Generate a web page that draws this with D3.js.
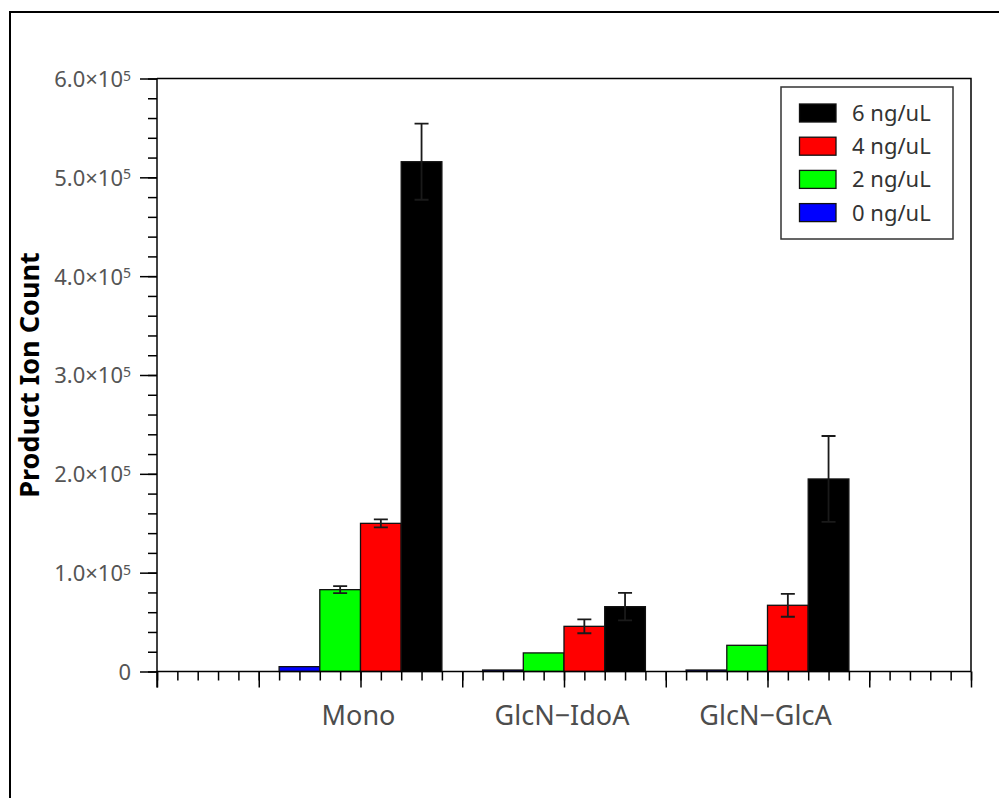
<!DOCTYPE html>
<html>
<head>
<meta charset="utf-8">
<script src="https://cdn.jsdelivr.net/npm/d3@7/dist/d3.min.js"></script>
<style>
  html, body { margin: 0; padding: 0; background: #fff; }
  svg { display: block; font-family: "Noto Sans", "Open Sans", sans-serif; }
</style>
</head>
<body>
<svg id="chart" width="999" height="798"></svg>
<script>
// Categories and their positions on the linear x axis
const categories = ["Mono", "GlcN\u2212IdoA", "GlcN\u2212GlcA"];
const categoryX = [2, 4, 6];

// Concentration series (drawn left to right inside each group)
const series = ["0 ng/uL", "2 ng/uL", "4 ng/uL", "6 ng/uL"];
const seriesColors = ["#0000ff", "#00ff00", "#ff0000", "#000000"];

// Product ion counts per series, one value per category
const vals0 = [4900, 1500, 1500];
const vals2 = [82800, 18800, 26500];
const vals4 = [149900, 45700, 67000];
const vals6 = [515800, 65600, 194800];

// Error (± one SD) per series, one value per category
const err0 = [0, 0, 0];
const err2 = [3500, 0, 0];
const err4 = [4000, 7000, 11600];
const err6 = [38500, 13900, 43500];

// Y tick labels
const yMajorTicks = [0, 100000, 200000, 300000, 400000, 500000, 600000];
const yTickMantissa = ["0", "1.0", "2.0", "3.0", "4.0", "5.0", "6.0"];

const values = [vals0, vals2, vals4, vals6];
const errors = [err0, err2, err4, err6];
const barWidth = 0.4;

const svg = d3.select("#chart");

const plot = { left: 157, right: 971, top: 78.5, bottom: 671.5 };

const x = d3.scaleLinear().domain([0, 8]).range([plot.left, plot.right]);
const y = d3.scaleLinear().domain([0, 600000]).range([plot.bottom, plot.top]);

// Outer frame
svg.append("rect")
  .attr("x", 10).attr("y", 12)
  .attr("width", 1000).attr("height", 800)
  .attr("fill", "none").attr("stroke", "#000").attr("stroke-width", 2);

// Top and right borders of the plotting box
svg.append("path")
  .attr("d", `M${plot.left},${plot.top}H${plot.right}V${plot.bottom}`)
  .attr("fill", "none").attr("stroke", "#000").attr("stroke-width", 1.5);

// Bars
const barData = [];
series.forEach((s, i) => {
  categories.forEach((c, j) => {
    barData.push({
      series: i, cat: j, value: values[i][j], err: errors[i][j],
      x0: categoryX[j] - 0.8 + barWidth * i
    });
  });
});

svg.append("g").selectAll("rect")
  .data(barData)
  .join("rect")
  .attr("x", d => x(d.x0))
  .attr("width", d => x(d.x0 + barWidth) - x(d.x0))
  .attr("y", d => y(d.value))
  .attr("height", d => y(0) - y(d.value))
  .attr("fill", d => seriesColors[d.series])
  .attr("stroke", "#111")
  .attr("stroke-width", 1.3);

// Error bars
const eb = svg.append("g")
  .attr("stroke", "#1a1a1a")
  .attr("stroke-width", 1.8)
  .attr("fill", "none");
barData.filter(d => d.err > 0).forEach(d => {
  const cx = x(d.x0 + barWidth / 2);
  const yHi = y(d.value + d.err), yLo = y(d.value - d.err);
  eb.append("path")
    .attr("d", `M${cx},${yLo}V${yHi}M${cx - 7},${yHi}H${cx + 7}M${cx - 7},${yLo}H${cx + 7}`);
});

// Y axis: minor ticks, then major ticks with labels
const yMinor = d3.range(0, 600001, 20000);
svg.append("g")
  .attr("transform", `translate(${plot.left},0)`)
  .call(d3.axisLeft(y).tickValues(yMinor).tickSize(9).tickFormat(""))
  .call(g => g.select(".domain").remove())
  .call(g => g.selectAll("line").attr("stroke", "#000").attr("stroke-width", 1.5));

const yAxis = svg.append("g")
  .attr("transform", `translate(${plot.left},0)`)
  .call(d3.axisLeft(y).tickValues(yMajorTicks).tickSize(17).tickPadding(8).tickFormat(""))
  .call(g => g.select(".domain").attr("stroke", "#000").attr("stroke-width", 1.5)
    .attr("d", `M0,${plot.top}V${plot.bottom + 16}`))
  .call(g => g.selectAll("line").attr("stroke", "#000").attr("stroke-width", 1.5));

yAxis.selectAll(".tick text")
  .attr("x", -26)
  .attr("dy", "0.36em")
  .attr("fill", "#555")
  .style("font-size", "22px")
  .style("font-family", "'Noto Sans', sans-serif")
  .each(function(d, i) {
    const t = d3.select(this);
    if (d === 0) {
      t.text(yTickMantissa[i]);
    } else {
      t.append("tspan").text(yTickMantissa[i] + "\u00d710");
      t.append("tspan").attr("dy", "-0.45em").style("font-size", "14px").text("5");
    }
  });

// X axis: minor and major ticks (labels only at the category centres)
const xMinor = d3.range(0, 8.001, 0.2);
svg.append("g")
  .attr("transform", `translate(0,${plot.bottom})`)
  .call(d3.axisBottom(x).tickValues(xMinor).tickSize(9).tickFormat(""))
  .call(g => g.select(".domain").remove())
  .call(g => g.selectAll("line").attr("stroke", "#000").attr("stroke-width", 1.5));

svg.append("g")
  .attr("transform", `translate(0,${plot.bottom})`)
  .call(d3.axisBottom(x).tickValues(d3.range(0, 9)).tickSize(16).tickFormat(""))
  .call(g => g.select(".domain").attr("stroke", "#000").attr("stroke-width", 1.5)
    .attr("d", `M${plot.left},0H${plot.right}`))
  .call(g => g.selectAll("line").attr("stroke", "#000").attr("stroke-width", 1.5));

svg.append("g").selectAll("text")
  .data(categories)
  .join("text")
  .attr("x", (d, i) => x(categoryX[i]) - 2)
  .attr("y", 725)
  .attr("text-anchor", "middle")
  .attr("fill", "#4d4d4d")
  .style("font-size", "27px")
  .text(d => d);

// Y axis title
svg.append("text")
  .attr("transform", `translate(39,${(plot.top + plot.bottom) / 2}) rotate(-90)`)
  .attr("text-anchor", "middle")
  .attr("fill", "#000")
  .style("font-size", "27px")
  .style("font-weight", "bold")
  .text("Product Ion Count");

// Legend (highest concentration first)
const legend = svg.append("g");
legend.append("rect")
  .attr("x", 781).attr("y", 87)
  .attr("width", 172).attr("height", 152)
  .attr("fill", "#fff").attr("stroke", "#333").attr("stroke-width", 1.5);

const legendOrder = [3, 2, 1, 0];
const rows = legend.selectAll("g.row")
  .data(legendOrder)
  .join("g")
  .attr("class", "row")
  .attr("transform", (d, k) => `translate(0,${113 + k * 33.2})`);
rows.append("rect")
  .attr("x", 799.5).attr("y", -9)
  .attr("width", 36.5).attr("height", 18)
  .attr("fill", d => seriesColors[d])
  .attr("stroke", "#111").attr("stroke-width", 1.3);
rows.append("text")
  .attr("x", 852).attr("y", 0).attr("dy", "0.36em")
  .attr("fill", "#333")
  .style("font-size", "22px")
  .text(d => series[d]);
</script>
</body>
</html>
